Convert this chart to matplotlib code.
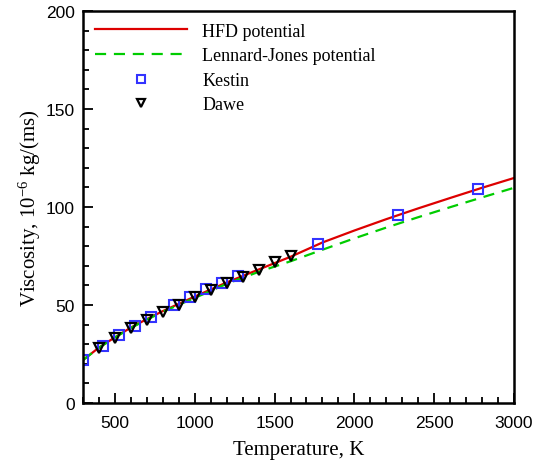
import matplotlib
matplotlib.use("Agg")
import matplotlib.pyplot as plt
from matplotlib.ticker import MultipleLocator

plt.rcParams['font.family'] = ['Liberation Serif', 'DejaVu Serif']
plt.rcParams['mathtext.fontset'] = 'custom'
plt.rcParams['mathtext.rm'] = 'Liberation Serif'
plt.rcParams['mathtext.it'] = 'Liberation Serif:italic'

# HFD potential curve
T_hfd = [300, 400, 500, 600, 700, 800, 900, 1000, 1200, 1400, 1600, 1800, 2000, 2200, 2400, 2600, 2800, 3000]
mu_hfd = [21.9, 28.3, 33.5, 38.5, 42.8, 46.9, 50.6, 54.3, 61.5, 68.1, 74.6, 81.9, 88.0, 93.8, 99.3, 104.6, 109.8, 114.8]

# Lennard-Jones potential curve
T_lj = [300, 400, 500, 600, 700, 800, 900, 1000, 1200, 1400, 1600, 1800, 2000, 2200, 2400, 2600, 2800, 3000]
mu_lj = [21.9, 28.2, 33.4, 38.3, 42.5, 46.5, 50.1, 53.6, 60.8, 66.9, 72.3, 78.2, 84.0, 89.5, 94.8, 99.9, 104.9, 109.8]

# Kestin experimental data
T_kestin = [300, 423, 523, 623, 723, 873, 973, 1073, 1173, 1273, 1773, 2273, 2773]
mu_kestin = [21.9, 29.2, 34.7, 39.4, 43.7, 50.0, 53.9, 58.0, 61.2, 64.6, 81.1, 95.9, 109.2]

# Dawe experimental data
T_dawe = [400, 500, 600, 700, 800, 900, 1000, 1100, 1200, 1300, 1400, 1500, 1600]
mu_dawe = [28.1, 33.2, 38.3, 42.3, 46.6, 50.2, 54.1, 57.5, 61.2, 64.4, 68.0, 71.8, 74.8]

fig = plt.figure(figsize=(5.43, 4.64), dpi=100)
ax = fig.add_axes([83/543, 60/464, 431/543, 392/464])

ax.plot(T_hfd, mu_hfd, color='#dd0000', lw=1.6, label='HFD potential')
ax.plot(T_lj, mu_lj, color='#00cc00', lw=1.6, ls=(0, (5, 3.5)), label='Lennard-Jones potential')
ax.plot(T_kestin, mu_kestin, ls='none', marker='s', ms=6.5, mfc='none', mec='#3333ff', mew=1.5, label='Kestin')
ax.plot(T_dawe, mu_dawe, ls='none', marker='v', ms=7, mfc='none', mec='black', mew=1.6, label='Dawe')

ax.set_xlim(300, 3000)
ax.set_ylim(0, 200)
ax.xaxis.set_major_locator(MultipleLocator(500))
ax.xaxis.set_minor_locator(MultipleLocator(100))
ax.yaxis.set_major_locator(MultipleLocator(50))
ax.yaxis.set_minor_locator(MultipleLocator(10))

ax.tick_params(which='both', direction='in', top=False, right=False, width=1.3)
ax.tick_params(which='major', length=7, labelsize=12.5, pad=6)
ax.tick_params(axis='x', which='major', pad=9)
ax.tick_params(which='minor', length=4)
for lab in ax.get_xticklabels() + ax.get_yticklabels():
    lab.set_fontfamily('Liberation Sans')
for s in ax.spines.values():
    s.set_linewidth(1.8)

ax.set_xlabel('Temperature, K', fontsize=15, labelpad=7)
ax.set_ylabel('Viscosity, 10$^{-6}$ kg/(ms)', fontsize=15, labelpad=2)

ax.legend(loc='upper left', bbox_to_anchor=(0.0, 1.0), frameon=False, fontsize=13,
          handlelength=5.1, handletextpad=0.85, labelspacing=0.42, borderaxespad=0.25,
          markerscale=0.85)

fig.savefig('out.png', dpi=100)
